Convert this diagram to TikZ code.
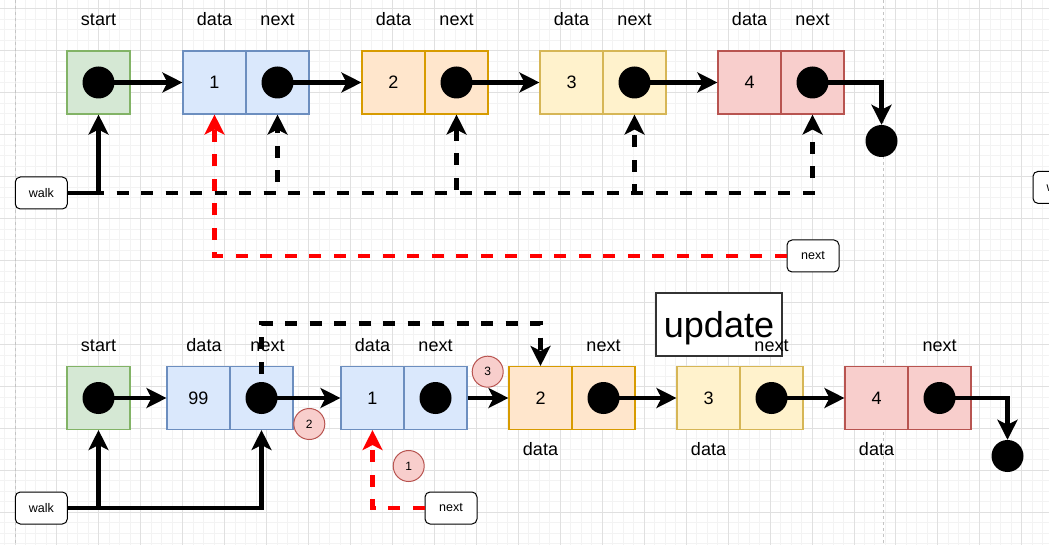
\documentclass[tikz,border=0pt]{standalone}
\usepackage{fontspec}
\setmainfont{Liberation Sans}
\usetikzlibrary{arrows.meta}
\definecolor{bluef}{HTML}{DAE8FC}\definecolor{blued}{HTML}{6C8EBF}
\definecolor{orangef}{HTML}{FFE6CC}\definecolor{oranged}{HTML}{D79B00}
\definecolor{yellowf}{HTML}{FFF2CC}\definecolor{yellowd}{HTML}{D6B656}
\definecolor{redf}{HTML}{F8CECC}\definecolor{redd}{HTML}{B85450}
\definecolor{greenf}{HTML}{D5E8D4}\definecolor{greend}{HTML}{82B366}
\definecolor{gminorc}{HTML}{F3F3F3}\definecolor{gmajorc}{HTML}{E0E0E0}
\definecolor{pagebrk}{HTML}{C4C4C4}
\definecolor{redline}{HTML}{FF0000}
\tikzset{
  cellbox/.style={draw, line width=1.1pt, minimum width=63pt, minimum height=63pt, inner sep=0pt, font=\fontsize{18}{20}\selectfont},
  bluecell/.style={cellbox, fill=bluef, draw=blued},
  orangecell/.style={cellbox, fill=orangef, draw=oranged},
  yellowcell/.style={cellbox, fill=yellowf, draw=yellowd},
  redcell/.style={cellbox, fill=redf, draw=redd},
  greencell/.style={cellbox, fill=greenf, draw=greend},
  dotnode/.style={circle, fill=black, minimum size=32pt, inner sep=0pt},
  lbl/.style={font=\fontsize{18}{20}\selectfont, anchor=base, inner sep=0pt},
  tagbox/.style={draw, fill=white, rounded corners=5pt, line width=1pt, minimum width=52pt, minimum height=32pt, inner sep=0pt, font=\fontsize{12.5}{14}\selectfont},
  badge/.style={circle, draw=redd, fill=redf, line width=1pt, minimum size=31pt, inner sep=0pt, font=\fontsize{12}{14}\selectfont},
  arr/.style={line width=4.2pt, -{Stealth[length=20pt,width=20pt,inset=5pt]}},
  dsh/.style={dash pattern=on 12pt off 12.5pt},
  gminor/.style={draw=gminorc, line width=1pt},
  gmajor/.style={draw=gmajorc, line width=1pt}
}
\begin{document}
\begin{tikzpicture}[x=1pt,y=-1pt]
\useasboundingbox (0,0) rectangle (1049,545);
\begin{scope}
\clip (0,0) rectangle (1049,545);
\fill[white] (0,0) rectangle (1049,545);
\foreach \i in {-2,...,100} \draw[gminor] ({15+10.4875*\i},0) -- ({15+10.4875*\i},545);
\foreach \j in {-1,...,52} \draw[gminor] (0,{9+10.4875*\j}) -- (1049,{9+10.4875*\j});
\foreach \i in {-1,...,25} \draw[gmajor] ({15+41.95*\i},0) -- ({15+41.95*\i},545);
\foreach \j in {0,...,13} \draw[gmajor] (0,{9+41.95*\j}) -- (1049,{9+41.95*\j});
\draw[pagebrk, line width=0.8pt, dash pattern=on 3pt off 3pt] (15,0) -- (15,545);
\draw[pagebrk, line width=0.8pt, dash pattern=on 3pt off 3pt] (883,0) -- (883,545);

% ---------- top row ----------
\node[greencell] (s1) at (98.5,82.5) {};
\node[bluecell] (a1d) at (214.5,82.5) {1};
\node[bluecell] (a1n) at (277.5,82.5) {};
\node[orangecell] (a2d) at (393.5,82.5) {2};
\node[orangecell] (a2n) at (456.5,82.5) {};
\node[yellowcell] (a3d) at (571.5,82.5) {3};
\node[yellowcell] (a3n) at (634.5,82.5) {};
\node[redcell] (a4d) at (749.5,82.5) {4};
\node[redcell] (a4n) at (812.5,82.5) {};
\node[dotnode] (s1dot) at (s1) {};
\node[dotnode] (a1dot) at (a1n) {};
\node[dotnode] (a2dot) at (a2n) {};
\node[dotnode] (a3dot) at (a3n) {};
\node[dotnode] (a4dot) at (a4n) {};
\node[dotnode] (end1) at (881.5,141) {};

\node[lbl] (ls1) at (98.5,26) {start};
\node[lbl] (la1d) at (214.5,26) {data};
\node[lbl] (la1n) at (277.5,26) {next};
\node[lbl] (la2d) at (393.5,26) {data};
\node[lbl] (la2n) at (456.5,26) {next};
\node[lbl] (la3d) at (571.5,26) {data};
\node[lbl] (la3n) at (634.5,26) {next};
\node[lbl] (la4d) at (749.5,26) {data};
\node[lbl] (la4n) at (812.5,26) {next};

\node[tagbox] (walk1) at (41.3,193) {walk};
\node[tagbox] (next1) at (813,256) {next};
\node[tagbox] (walk3) at (1059,187.4) {walk};

\draw[arr] (s1dot.center) -- (a1d.west);
\draw[arr] (a1dot.center) -- (a2d.west);
\draw[arr] (a2dot.center) -- (a3d.west);
\draw[arr] (a3dot.center) -- (a4d.west);
\draw[arr] (a4dot.center) -| (end1.north);
\draw[arr] (walk1.east) -| (s1.south);
\draw[arr,dsh] (walk1.east) -| (a1n.south);
\draw[arr,dsh] (walk1.east) -| (a2n.south);
\draw[arr,dsh] (walk1.east) -| (a3n.south);
\draw[arr,dsh] (walk1.east) -| (a4n.south);
\draw[arr,dsh,redline] (next1.west) -| (a1d.south);

% ---------- bottom row ----------
\node[greencell] (s2) at (98.5,398) {};
\node[bluecell] (b0d) at (198.5,398) {99};
\node[bluecell] (b0n) at (261.5,398) {};
\node[bluecell] (b1d) at (372.5,398) {1};
\node[bluecell] (b1n) at (435.5,398) {};
\node[orangecell] (b2d) at (540.5,398) {2};
\node[orangecell] (b2n) at (603.5,398) {};
\node[yellowcell] (b3d) at (708.5,398) {3};
\node[yellowcell] (b3n) at (771.5,398) {};
\node[redcell] (b4d) at (876.5,398) {4};
\node[redcell] (b4n) at (939.5,398) {};
\node[dotnode] (s2dot) at (s2) {};
\node[dotnode] (b0dot) at (b0n) {};
\node[dotnode] (b1dot) at (b1n) {};
\node[dotnode] (b2dot) at (b2n) {};
\node[dotnode] (b3dot) at (b3n) {};
\node[dotnode] (b4dot) at (b4n) {};
\node[dotnode] (end2) at (1007.5,456) {};

\node[draw=black!80, fill=white, line width=1.1pt, minimum width=126pt, minimum height=63pt, inner sep=0pt] (upd) at (719,324.5) {};
\node[font=\fontsize{36}{40}\selectfont, anchor=base, inner sep=0pt] (updt) at (719,337.5) {update};

\node[lbl] (ls2) at (98.5,351) {start};
\node[lbl] (lb0d) at (204,351) {data};
\node[lbl] (lb0n) at (267.5,351) {next};
\node[lbl] (lb1d) at (372.5,351) {data};
\node[lbl] (lb1n) at (435.5,351) {next};
\node[lbl] (lb2n) at (603.5,351) {next};
\node[lbl] (lb3n) at (771.5,351) {next};
\node[lbl] (lb4n) at (939.5,351) {next};
\node[lbl] (lb2d) at (540.5,455.7) {data};
\node[lbl] (lb3d) at (708.5,455.7) {data};
\node[lbl] (lb4d) at (876.5,455.7) {data};

\node[tagbox] (walk2) at (41.3,508) {walk};
\node[tagbox] (next2) at (451,508) {next};

\coordinate (jump) at (400,323.5);
\draw[arr] (s2dot.center) -- (b0d.west);
\draw[arr] (b0dot.center) -- (b1d.west);
\draw[arr] (b1n.east) -- (b2d.west);
\draw[arr] (b2dot.center) -- (b3d.west);
\draw[arr] (b3dot.center) -- (b4d.west);
\draw[arr] (b4dot.center) -| (end2.north);
\draw[arr] (walk2.east) -| (s2.south);
\draw[arr] (walk2.east) -| (b0n.south);
\draw[arr,dsh] (b0dot.center) |- (jump) -| (b2d.north);
\draw[arr,dsh,redline] (next2.west) -| (b1d.south);

\node[badge] (bd2) at (309.3,424) {2};
\node[badge] (bd3) at (487.7,371.7) {3};
\node[badge] (bd1) at (408.7,466) {1};
\end{scope}
\end{tikzpicture}
\end{document}
